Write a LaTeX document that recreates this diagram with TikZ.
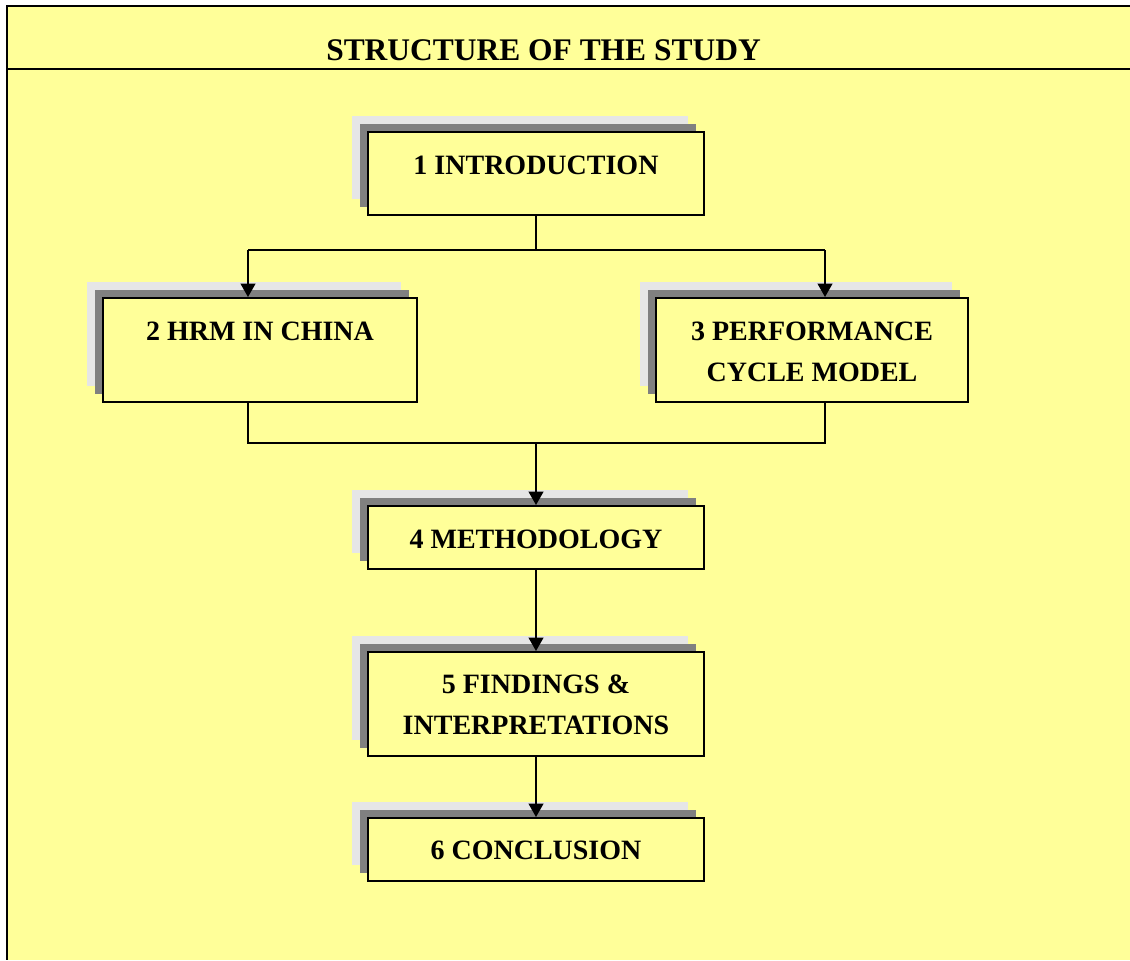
\documentclass[tikz,border=0pt]{standalone}
\usepackage{fontspec}
\setmainfont{Liberation Serif}
\usetikzlibrary{arrows.meta,shadows}

\definecolor{paper}{HTML}{FFFF99}
\definecolor{shadedark}{HTML}{808080}
\definecolor{shadelight}{HTML}{E6E6E6}

\tikzset{
  stagebox/.style={
    rectangle, draw=black, line width=1.5pt, fill=paper, inner sep=0pt,
    general shadow={fill=shadelight, shadow xshift=-12pt, shadow yshift=12pt},
    general shadow={fill=shadedark, shadow xshift=-6pt, shadow yshift=6pt}
  },
  stagetext/.style={anchor=base, inner sep=0pt,
    font=\fontsize{21}{25}\selectfont\bfseries},
  link/.style={line width=1.4pt, draw=black},
  arrowlink/.style={link, -{Triangle[width=11pt,length=10pt]}}
}

\begin{document}
\begin{tikzpicture}[x=0.75pt, y=-0.75pt]
  \useasboundingbox (0,0) rectangle (1130,960);
  \fill[white] (0,0) rectangle (1130,960);

  % panel with title bar
  \fill[paper] (7,6) rectangle (1130,960);
  \draw[line width=2pt] (1130,6) -- (7,6) -- (7,960);
  \draw[line width=1.5pt] (7,69) -- (1130,69);
  \node[anchor=base, inner sep=0pt, font=\fontsize{23.6}{28}\selectfont\bfseries]
    (title) at (543.5,60) {STRUCTURE OF THE STUDY};

  % chapter boxes
  \node[stagebox, minimum width=252pt, minimum height=62.25pt] (intro) at (536,173.5) {};
  \node[stagebox, minimum width=235.5pt, minimum height=78pt] (hrm) at (260,350) {};
  \node[stagebox, minimum width=234pt, minimum height=78pt] (perf) at (812,350) {};
  \node[stagebox, minimum width=252pt, minimum height=47.25pt] (meth) at (536,537.5) {};
  \node[stagebox, minimum width=252pt, minimum height=78pt] (find) at (536,704) {};
  \node[stagebox, minimum width=252pt, minimum height=47.25pt] (concl) at (536,849.5) {};

  % chapter titles
  \node[stagetext] (intro-t) at (536,174) {1 INTRODUCTION};
  \node[stagetext] (hrm-t) at (260,340) {2 HRM IN CHINA};
  \node[stagetext] (perf-t1) at (812,340) {3 PERFORMANCE};
  \node[stagetext] (perf-t2) at (812,381) {CYCLE MODEL};
  \node[stagetext] (meth-t) at (536,548) {4 METHODOLOGY};
  \node[stagetext] (find-t1) at (536,693.5) {5 FINDINGS \&};
  \node[stagetext] (find-t2) at (536,734.5) {INTERPRETATIONS};
  \node[stagetext] (concl-t) at (536,859.5) {6 CONCLUSION};

  % branch points
  \coordinate (split) at (536,250);
  \coordinate (splitL) at (248,250);
  \coordinate (splitR) at (825,250);
  \coordinate (joinL) at (248,443);
  \coordinate (joinR) at (825,443);
  \coordinate (join) at (536,443);

  % connectors
  \draw[link] (intro.south) -- (split);
  \draw[link] (splitL) -- (splitR);
  \draw[arrowlink] (splitL) -- (splitL |- hrm.north);
  \draw[arrowlink] (splitR) -- (splitR |- perf.north);
  \draw[link] (joinL |- hrm.south) -- (joinL) -- (joinR) -- (joinR |- perf.south);
  \draw[arrowlink] (join) -- (meth.north);
  \draw[arrowlink] (meth.south) -- (find.north);
  \draw[arrowlink] (find.south) -- (concl.north);
\end{tikzpicture}
\end{document}
